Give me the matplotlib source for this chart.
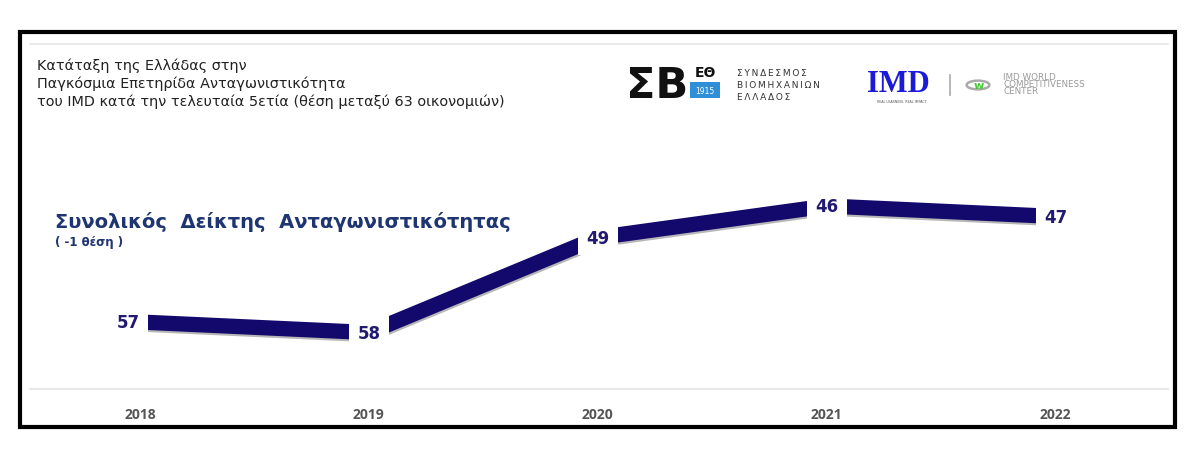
import matplotlib
matplotlib.use("Agg")
import matplotlib.pyplot as plt
import matplotlib.patheffects as pe
from matplotlib.patches import Rectangle, Circle
from matplotlib.lines import Line2D

years = ["2018", "2019", "2020", "2021", "2022"]
ranks = [57, 58, 49, 46, 47]

title_lines = ["Κατάταξη της Ελλάδας στην",
               "Παγκόσμια Επετηρίδα Ανταγωνιστικότητα",
               "του IMD κατά την τελευταία 5ετία (θέση μεταξύ 63 οικονομιών)"]
series_title = "Συνολικός  Δείκτης  Ανταγωνιστικότητας"
series_sub = "( -1 θέση )"

W, H = 1200, 460
fig = plt.figure(figsize=(W / 100, H / 100), dpi=100)
fig.patch.set_facecolor("white")

def fx(px):
    return px / W

def fy(py):
    return 1 - py / H

# outer frame
fig.add_artist(Rectangle((fx(20), fy(428)), fx(1175) - fx(20), fy(33) - fy(428),
                         transform=fig.transFigure, fill=False, lw=3, ec="black"))
# top light line
fig.add_artist(Line2D([fx(30), fx(1168)], [fy(45), fy(45)], transform=fig.transFigure,
                      color="#e6e6e6", lw=1.2))

# title text
for i, t in enumerate(title_lines):
    fig.text(fx(37), fy(66 + i * 18), t, fontsize=10.4, color="#222222",
             family="DejaVu Sans", va="center", ha="left")

# series title
fig.text(fx(55), fy(222), series_title, fontsize=14, color="#1f3572",
         family="DejaVu Sans", fontweight="bold", va="center", ha="left")
fig.text(fx(55), fy(243), series_sub, fontsize=8.5, color="#1f3572",
         family="DejaVu Sans", fontweight="bold", va="center", ha="left")

# logos (as text)
fig.text(fx(626), fy(86), "ΣΒ", fontsize=31, fontweight="bold", color="#111111",
         family="DejaVu Sans", va="center", ha="left")
fig.text(fx(705), fy(73), "ΕΘ", fontsize=10, fontweight="bold", color="#111111",
         family="DejaVu Sans", va="center", ha="center")
fig.add_artist(Rectangle((fx(690), fy(99)), fx(30), fy(83) - fy(99),
                         transform=fig.transFigure, color="#2e8fd8", lw=0))
fig.text(fx(705), fy(91), "1915", fontsize=5.5, color="white",
         family="DejaVu Sans", va="center", ha="center")
for i, t in enumerate(["ΣΥΝΔΕΣΜΟΣ", "ΒΙΟΜΗΧΑΝΙΩΝ", "ΕΛΛΑΔΟΣ"]):
    fig.text(fx(737), fy(73 + i * 12.5), "\u2009".join(t), fontsize=6.5, color="#333333",
             family="DejaVu Sans", va="center", ha="left")

fig.text(fx(867), fy(85), "IMD", fontsize=22, fontweight="bold", color="#1a1ad8",
         family="Liberation Serif", va="center", ha="left")
fig.text(fx(902), fy(102), "REAL LEARNING. REAL IMPACT", fontsize=2.3, color="#555555",
         family="DejaVu Sans", va="center", ha="center")
fig.add_artist(Line2D([fx(950), fx(950)], [fy(76), fy(96)], transform=fig.transFigure,
                      color="#aaaaaa", lw=1.2))
fig.add_artist(Circle((fx(978), fy(86)), 0.0095, transform=fig.transFigure,
                      fill=False, ec="#aaaaaa", lw=1.8))
fig.text(fx(979), fy(86), "w", fontsize=8, color="#44cc33", fontweight="bold",
         family="DejaVu Sans", va="center", ha="center")
for i, t in enumerate(["IMD WORLD", "COMPETITIVENESS", "CENTER"]):
    fig.text(fx(1003), fy(77 + i * 7.5), t, fontsize=6.3, color="#999999",
             family="DejaVu Sans", va="center", ha="left")

# chart axes
ax = fig.add_axes([fx(30), fy(390), fx(1168) - fx(30), fy(150) - fy(390)])
ax.set_facecolor("none")
x = list(range(len(years)))
ax.plot(x, ranks, color="#13086b", lw=11, solid_capstyle="butt", solid_joinstyle="miter",
        path_effects=[pe.SimpleLineShadow(offset=(0.5, -1.5), shadow_color="#888888", alpha=0.6),
                      pe.Normal()], zorder=2)
for xi, r in zip(x, ranks):
    ax.text(xi - (0.05 if xi == 0 else 0), r, str(r), fontsize=12, fontweight="bold",
            color="#221a70", family="DejaVu Sans", ha="center", va="center", zorder=3,
            bbox=dict(boxstyle="square,pad=0.5", fc="white", ec="none"))

ax.set_xlim(-0.48, 4.49)
ax.set_ylim(63.35, 40.6)
ax.set_xticks(x)
ax.set_xticklabels(years, fontsize=10, fontweight="bold", color="#555555", family="Open Sans")
ax.set_yticks([])
ax.tick_params(axis="x", length=0, pad=13)
for s in ["top", "right", "left"]:
    ax.spines[s].set_visible(False)
ax.spines["bottom"].set_color("#e3e3e3")
ax.spines["bottom"].set_linewidth(1.2)

fig.savefig("out.png", dpi=100, facecolor="white")
